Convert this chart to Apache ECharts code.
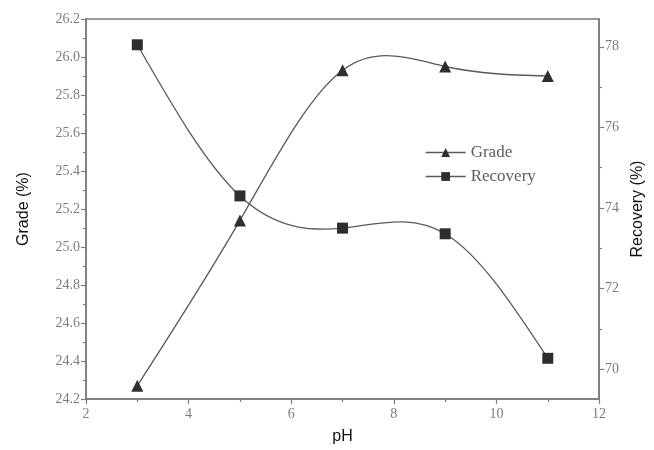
<!DOCTYPE html>
<html>
<head>
<meta charset="utf-8">
<script src="https://cdn.jsdelivr.net/npm/echarts@6/dist/echarts.min.js"></script>
<style>
  html, body { margin: 0; padding: 0; background: #ffffff; }
  #chart { width: 654px; height: 450px; }
</style>
</head>
<body>
<div id="chart"></div>
<script>
// pH levels tested and the two measured responses
const phValues = [3, 5, 7, 9, 11];
const gradeValues = [24.27, 25.14, 25.93, 25.95, 25.90];
const recoveryValues = [78.05, 74.3, 73.5, 73.36, 70.27];
const recoveryMajorTicks = [70, 72, 74, 76, 78];
const recoveryMinorTicks = [71, 73, 75, 77];

const axisGray = '#7a7a7a';
const curveColor = '#5a5a5a';
const markColor = '#2e2e2e';
const labelStyle = { fontFamily: 'Liberation Serif', fontSize: 14, color: '#7c7c7c' };
const nameStyle = { fontFamily: 'Liberation Sans', fontSize: 16, color: '#111' };

// Natural cubic spline slopes at each knot (knots sorted by x)
function splineSlopes(xs, ys) {
  const n = xs.length;
  const h = [], M = new Array(n).fill(0);
  for (let i = 0; i < n - 1; i++) h.push(xs[i + 1] - xs[i]);
  // tridiagonal system for interior second derivatives
  const a = [], b = [], c = [], d = [];
  for (let i = 1; i < n - 1; i++) {
    a.push(h[i - 1]); b.push(2 * (h[i - 1] + h[i])); c.push(h[i]);
    d.push(6 * ((ys[i + 1] - ys[i]) / h[i] - (ys[i] - ys[i - 1]) / h[i - 1]));
  }
  const m = d.length;
  for (let i = 1; i < m; i++) {
    const w = a[i] / b[i - 1];
    b[i] -= w * c[i - 1]; d[i] -= w * d[i - 1];
  }
  const sol = new Array(m);
  for (let i = m - 1; i >= 0; i--) sol[i] = (d[i] - (i < m - 1 ? c[i] * sol[i + 1] : 0)) / b[i];
  for (let i = 0; i < m; i++) M[i + 1] = sol[i];
  const slopes = [];
  for (let i = 0; i < n; i++) {
    if (i < n - 1) slopes.push((ys[i + 1] - ys[i]) / h[i] - h[i] * (2 * M[i] + M[i + 1]) / 6);
    else slopes.push((ys[i] - ys[i - 1]) / h[i - 1] + h[i - 1] * (M[i - 1] + 2 * M[i]) / 6);
  }
  return slopes;
}

// Renders the spline through the knots as cubic Bezier pieces in pixel space
function splineRenderer(xs, ys) {
  const slopes = splineSlopes(xs, ys);
  return function (params, api) {
    if (params.dataIndex !== 0) return null;
    const start = api.coord([xs[0], ys[0]]);
    let path = 'M' + start[0] + ' ' + start[1];
    for (let i = 0; i < xs.length - 1; i++) {
      const h = xs[i + 1] - xs[i];
      const c1 = api.coord([xs[i] + h / 3, ys[i] + slopes[i] * h / 3]);
      const c2 = api.coord([xs[i + 1] - h / 3, ys[i + 1] - slopes[i + 1] * h / 3]);
      const p = api.coord([xs[i + 1], ys[i + 1]]);
      path += ' C' + c1[0] + ' ' + c1[1] + ' ' + c2[0] + ' ' + c2[1] + ' ' + p[0] + ' ' + p[1];
    }
    return {
      type: 'path',
      shape: { pathData: path },
      style: { fill: null, stroke: curveColor, lineWidth: 1.3 }
    };
  };
}

const chart = echarts.init(document.getElementById('chart'));
chart.setOption({
  animation: false,
  backgroundColor: '#ffffff',
  grid: {
    left: 86, right: 54, top: 19, bottom: 50,
    show: true, borderColor: axisGray, borderWidth: 1.5, backgroundColor: 'transparent'
  },
  legend: {
    orient: 'vertical', left: 420, top: 139, itemGap: 7,
    itemWidth: 40, itemHeight: 11,
    lineStyle: { color: curveColor, width: 1.3, opacity: 1 },
    textStyle: { fontFamily: 'Liberation Serif', fontSize: 17, color: '#5e5e5e' },
    data: ['Grade', 'Recovery']
  },
  xAxis: {
    type: 'value', min: 2, max: 12, interval: 2,
    name: 'pH', nameLocation: 'middle', nameGap: 30, nameTextStyle: nameStyle,
    axisLine: { lineStyle: { color: axisGray, width: 1.5 } },
    axisTick: { length: 5, lineStyle: { color: axisGray, width: 1.2 } },
    minorTick: { show: true, splitNumber: 2, length: 3, lineStyle: { color: axisGray, width: 1.2 } },
    axisLabel: Object.assign({ margin: 8 }, labelStyle),
    splitLine: { show: false }
  },
  yAxis: [
    {
      type: 'value', min: 24.2, max: 26.2, interval: 0.2, position: 'left',
      name: 'Grade (%)', nameLocation: 'middle', nameGap: 54, nameRotate: 90, nameTextStyle: nameStyle,
      axisLine: { show: true, lineStyle: { color: axisGray, width: 1.5 } },
      axisTick: { show: true, length: 5, lineStyle: { color: axisGray, width: 1.2 } },
      minorTick: { show: true, splitNumber: 2, length: 3, lineStyle: { color: axisGray, width: 1.2 } },
      axisLabel: Object.assign({ margin: 6, formatter: v => v.toFixed(1) }, labelStyle),
      splitLine: { show: false }
    },
    {
      type: 'value', min: 69.26, max: 78.69, position: 'right',
      name: 'Recovery (%)', nameLocation: 'middle', nameGap: 30, nameRotate: 90, nameTextStyle: nameStyle,
      axisLine: { show: true, lineStyle: { color: axisGray, width: 1.5 } },
      axisTick: { show: true, length: 5, customValues: recoveryMajorTicks, lineStyle: { color: axisGray, width: 1.2 } },
      axisLabel: Object.assign({ margin: 6, customValues: recoveryMajorTicks }, labelStyle),
      splitLine: { show: false }
    },
    {
      // minor ticks for the recovery scale
      type: 'value', min: 69.26, max: 78.69, position: 'right',
      axisLine: { show: false },
      axisTick: { show: true, length: 3, customValues: recoveryMinorTicks, lineStyle: { color: axisGray, width: 1.2 } },
      axisLabel: { show: false, customValues: recoveryMinorTicks },
      splitLine: { show: false }
    }
  ],
  series: [
    {
      name: 'Grade curve', type: 'custom', xAxisIndex: 0, yAxisIndex: 0, z: 1, silent: true,
      renderItem: splineRenderer(phValues, gradeValues),
      data: phValues.map((x, i) => [x, gradeValues[i]])
    },
    {
      name: 'Recovery curve', type: 'custom', xAxisIndex: 0, yAxisIndex: 1, z: 1, silent: true,
      renderItem: splineRenderer(phValues, recoveryValues),
      data: phValues.map((x, i) => [x, recoveryValues[i]])
    },
    {
      name: 'Grade', type: 'line', yAxisIndex: 0, z: 3,
      symbol: 'triangle', symbolSize: 12,
      itemStyle: { color: markColor },
      lineStyle: { color: curveColor, width: 1.3, opacity: 0 },
      data: phValues.map((x, i) => [x, gradeValues[i]])
    },
    {
      name: 'Recovery', type: 'line', yAxisIndex: 1, z: 3,
      symbol: 'rect', symbolSize: 11,
      itemStyle: { color: markColor },
      lineStyle: { color: curveColor, width: 1.3, opacity: 0 },
      data: phValues.map((x, i) => [x, recoveryValues[i]])
    }
  ]
});
</script>
</body>
</html>
